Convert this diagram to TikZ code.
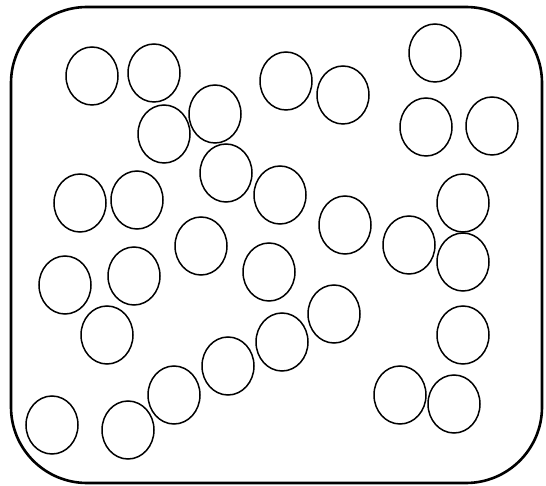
\documentclass[tikz,border=0pt]{standalone}
\usetikzlibrary{shapes.geometric}
\begin{document}
\begin{tikzpicture}[x=1pt,y=-1pt,
  ball/.style={ellipse,draw,line width=1.5pt,minimum width=52pt,minimum height=58pt,inner sep=0pt},
  frame/.style={draw,line width=2.6pt,rounded corners=76pt}]
\useasboundingbox (0,0) rectangle (546,486);
\draw[frame] (11,7) rectangle (542,483);
\foreach \x/\y [count=\i] in {92/76,154/73,286/81,343/95,435/53,215/114,164/134,426/127,492/126,226/173,80/203,137/200,280/195,463/203,345/225,409/245,201/246,463/262,65/285,134/276,269/272,334/314,107/335,463/335,282/342,228/366,174/395,400/395,454/404,52/425,128/430}
  \node[ball] (c\i) at (\x,\y) {};
\end{tikzpicture}
\end{document}
